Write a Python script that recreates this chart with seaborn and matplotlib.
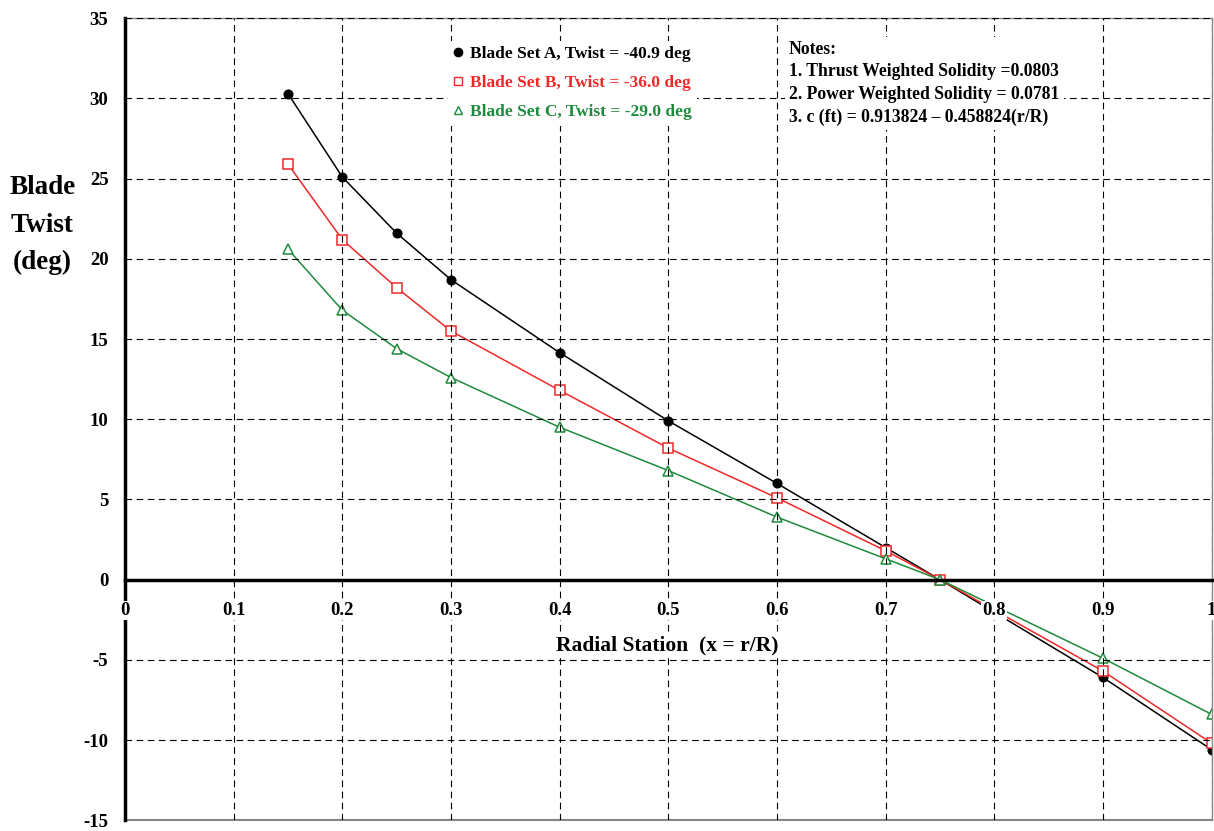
import numpy as np
import pandas as pd
import matplotlib.pyplot as plt
import seaborn as sns
from matplotlib.lines import Line2D

# radial stations and twist of each blade set (deg)
stations = [0.15, 0.2, 0.25, 0.3, 0.4, 0.5, 0.6, 0.7, 0.75, 0.9, 1.0]
twist_a = [30.3, 25.1, 21.6, 18.7, 14.15, 9.9, 6.0, 2.0, 0.0, -6.1, -10.6]
twist_b = [25.9, 21.2, 18.2, 15.5, 11.8, 8.2, 5.1, 1.8, 0.0, -5.7, -10.2]
twist_c = [20.6, 16.8, 14.4, 12.6, 9.5, 6.8, 3.9, 1.3, 0.0, -4.9, -8.4]

labels = ["Blade Set A, Twist = -40.9 deg",
          "Blade Set B, Twist = -36.0 deg",
          "Blade Set C, Twist = -29.0 deg"]
notes = ["Notes:",
         "1. Thrust Weighted Solidity =0.0803",
         "2. Power Weighted Solidity = 0.0781",
         "3. c (ft) = 0.913824 \u2013 0.458824(r/R)"]
x_ticks = [0, 0.1, 0.2, 0.3, 0.4, 0.5, 0.6, 0.7, 0.8, 0.9, 1.0]
x_ticklabels = ["0", "0.1", "0.2", "0.3", "0.4", "0.5", "0.6", "0.7", "0.8", "0.9", "1"]
y_ticks = [-15, -10, -5, 0, 5, 10, 15, 20, 25, 30, 35]
y_ticklabels = ["-15", "-10", "-5", "0", "5", "10", "15", "20", "25", "30", "35"]

sns.set_style("white")
plt.rcParams['font.family'] = ['Liberation Serif', 'DejaVu Serif']
plt.rcParams['font.weight'] = 'bold'
plt.rcParams['axes.axisbelow'] = False
plt.rcParams['axes.unicode_minus'] = False
plt.rcParams['text.color'] = 'black'
plt.rcParams['xtick.color'] = 'black'
plt.rcParams['ytick.color'] = 'black'
plt.rcParams['axes.labelcolor'] = 'black'

red = "#f02828"
green = "#1e8a3c"

fig = plt.figure(figsize=(12.14, 8.31), dpi=100)
ax = fig.add_axes([0.103, 0.013, 0.895, 0.965])

sns.lineplot(x=stations, y=twist_a, color="black", lw=1.1, marker="o", ms=6.5,
             mfc="black", mec="black", ax=ax, legend=False)
sns.lineplot(x=stations, y=twist_b, color=red, lw=1.1, marker="s", ms=6.5,
             mfc="white", mec=red, mew=1.1, ax=ax, legend=False)
sns.lineplot(x=stations, y=twist_c, color=green, lw=1.1, marker="^", ms=7,
             mfc="white", mec=green, mew=1.1, ax=ax, legend=False)

# x axis runs along zero twist
ax.spines['bottom'].set_position(('data', 0))
ax.spines['bottom'].set_linewidth(2.5)
ax.spines['bottom'].set_color("black")
ax.spines['left'].set_linewidth(2.5)
ax.spines['left'].set_color("black")
for s in ['top', 'right']:
    ax.spines[s].set_linewidth(1.0)
    ax.spines[s].set_color("#888888")
ax.axhline(-15, color="#888888", lw=1.5, clip_on=False)

ax.set_xlim(0, 1)
ax.set_ylim(-15, 35)
ax.set_xticks(x_ticks, x_ticklabels, fontweight='bold', fontsize=13.5)
ax.set_yticks(y_ticks, y_ticklabels, fontweight='bold', fontsize=13.5)
ax.grid(True, color="black", lw=0.8, linestyle=(0, (6, 4)))

ax.tick_params(axis='x', direction='in', length=6, width=2, pad=16, colors='black')
ax.tick_params(axis='y', direction='in', length=6, width=2, pad=12, colors='black')
for lab in ax.get_xticklabels():
    lab.set_bbox(dict(facecolor='white', edgecolor='none', pad=1))

ax.text(0.499, -4.1, "Radial Station  (x = r/R)", ha='center', va='center',
        fontsize=15.5, fontweight='bold', color='black',
        bbox=dict(facecolor='white', edgecolor='none', pad=2))
ax.text(-0.076, 22.1, "Blade\nTwist\n(deg)", ha='center', va='center',
        fontsize=19.5, fontweight='bold', linespacing=1.65, color='black',
        transform=ax.get_yaxis_transform())

handles = [Line2D([], [], marker="o", color="black", mfc="black", ls="none", ms=6),
           Line2D([], [], marker="s", color=red, mfc="white", ls="none", ms=6),
           Line2D([], [], marker="^", color=green, mfc="white", ls="none", ms=6)]
leg = ax.legend(handles, labels, loc='upper left', bbox_to_anchor=(0.289, 0.983),
                frameon=True, fancybox=False, framealpha=1, facecolor='white',
                edgecolor='none', borderpad=0.3, handlelength=0.6, handletextpad=0.4,
                labelspacing=0.75, prop={'size': 12.5, 'weight': 'bold'},
                labelcolor='markeredgecolor')

ax.text(0.611, 33.6, "\n".join(notes), ha='left', va='top', fontsize=12.7,
        fontweight='bold', linespacing=1.43, color='black',
        bbox=dict(facecolor='white', edgecolor='none', pad=3))

plt.savefig("out.png", dpi=100)
